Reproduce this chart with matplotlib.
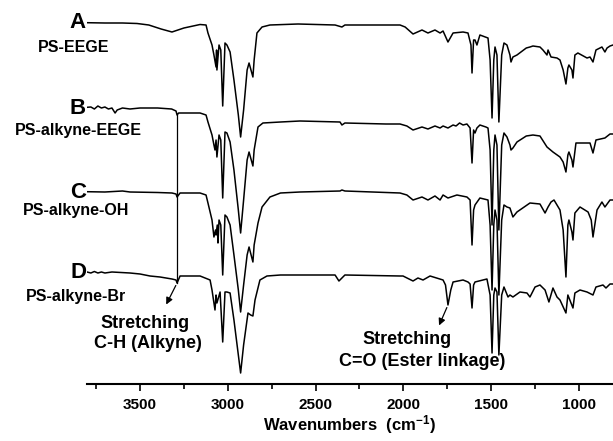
import numpy as np
import matplotlib
matplotlib.use('Agg')
import matplotlib.pyplot as plt

plt.rcParams['font.family'] = ['Liberation Sans', 'DejaVu Sans']
plt.rcParams['font.weight'] = 'bold'
plt.rcParams['mathtext.fontset'] = 'custom'
plt.rcParams['mathtext.bf'] = 'Liberation Sans:bold'
plt.rcParams['mathtext.rm'] = 'Liberation Sans:bold'
plt.rcParams['mathtext.default'] = 'bf'

# FTIR spectra, transmittance in arbitrary units (baseline ~100)
wn_a = [3802, 3700, 3600, 3517, 3450, 3380, 3318, 3250, 3158, 3124, 3113, 3090, 3079, 3067, 3064, 3062,
        3050, 3040, 3029, 3016, 3005, 2987, 2965, 2940, 2927, 2910, 2890, 2879, 2857, 2850, 2834, 2805,
        2760, 2600, 2389, 2350, 2333, 2100, 2019, 1990, 1945, 1894, 1860, 1820, 1791, 1774, 1746, 1717,
        1660, 1632, 1615, 1609, 1600, 1592, 1581, 1564, 1518, 1506, 1495, 1485, 1478, 1467, 1456, 1440,
        1427, 1410, 1393, 1387, 1376, 1353, 1300, 1279, 1262, 1222, 1205, 1182, 1176, 1159, 1125, 1108,
        1090, 1074, 1063, 1057, 1040, 1034, 1023, 1006, 954, 937, 920, 903, 869, 852, 840, 823, 806]
t_a = [99.3, 99, 99, 98.5, 97, 93, 90, 94, 97.5, 97, 89, 77, 67, 55, 72, 52,
       77, 72, 16, 79, 77, 70, 42, 7, -15, 12, 52, 59, 45, 62, 89, 95,
       97, 98, 97, 95, 97, 97, 97, 95, 88, 92, 89, 92, 89, 91, 80, 89,
       90, 89, 77, 49, 82, 82, 77, 87, 84, 62, 4, 62, 75, 67, 0, 67,
       79, 77, 67, 60, 65, 67, 74, 75, 76, 75, 72, 67, 72, 65, 64, 62,
       52, 38, 54, 57, 52, 44, 67, 69, 64, 65, 60, 72, 75, 70, 74, 76, 77]

wn_b = [3802, 3780, 3760, 3740, 3720, 3700, 3680, 3660, 3642, 3630, 3600, 3557, 3500, 3400, 3320, 3295,
        3289, 3280, 3272, 3158, 3124, 3113, 3090, 3079, 3073, 3067, 3062, 3050, 3040, 3029, 3016, 3005,
        2987, 2965, 2940, 2927, 2910, 2890, 2879, 2857, 2850, 2828, 2800, 2700, 2589, 2361, 2350, 2333,
        2100, 2019, 1980, 1945, 1894, 1860, 1820, 1791, 1774, 1746, 1717, 1700, 1680, 1660, 1638, 1620,
        1609, 1600, 1592, 1581, 1564, 1530, 1518, 1506, 1495, 1485, 1478, 1467, 1456, 1440, 1427, 1410,
        1393, 1387, 1376, 1353, 1300, 1262, 1222, 1182, 1148, 1108, 1090, 1074, 1063, 1057, 1040, 1034,
        1017, 937, 920, 903, 852, 823, 806]
t_b = [100.7, 101, 99, 102, 100, 101, 99, 100, 95, 98, 100, 99, 100, 100, 99, 97,
       93, 95, 95, 95, 93, 86, 73, 63, 58, 68, 51, 73, 68, 10, 76, 75,
       66, 38, -2, -25, 8, 48, 56, 42, 58, 81, 85, 86, 87, 86, 83, 85,
       84, 84, 82, 78, 81, 79, 82, 80, 82, 80, 83, 82, 85, 83, 84, 80,
       45, 78, 75, 80, 83, 81, 80, 58, -17, 58, 73, 63, -22, 63, 75, 71,
       63, 58, 60, 66, 72, 73, 72, 61, 56, 51, 46, 36, 53, 56, 48, 41,
       65, 65, 55, 68, 70, 74, 74]

wn_c = [3802, 3700, 3600, 3557, 3400, 3318, 3295, 3289, 3272, 3158, 3124, 3113, 3090, 3079, 3070, 3067,
        3060, 3056, 3050, 3040, 3029, 3016, 3005, 2987, 2965, 2940, 2927, 2910, 2890, 2879, 2857, 2850,
        2828, 2805, 2760, 2700, 2589, 2361, 2350, 2333, 2019, 1980, 1945, 1894, 1860, 1820, 1791, 1774,
        1746, 1695, 1638, 1620, 1609, 1600, 1592, 1564, 1518, 1506, 1495, 1485, 1478, 1467, 1456, 1440,
        1427, 1410, 1393, 1376, 1353, 1279, 1222, 1193, 1176, 1159, 1142, 1108, 1090, 1074, 1063, 1057,
        1040, 1034, 1023, 994, 948, 930, 920, 897, 869, 852, 823, 806]
t_c = [100.3, 100, 101, 100, 99.5, 99, 98, 95, 99, 99, 97, 89, 72, 55, 62, 57,
       67, 49, 72, 67, 17, 77, 75, 67, 37, 2, -20, 7, 37, 45, 30, 47,
       69, 85, 95, 99, 100, 101, 102, 101, 99, 97, 92, 95, 92, 96, 92, 97,
       94, 97, 95, 92, 47, 82, 87, 94, 92, 67, 2, 67, 82, 72, -3, 72,
       87, 85, 84, 75, 80, 89, 88, 79, 85, 90, 92, 82, 62, 15, 67, 72,
       60, 52, 79, 85, 80, 72, 55, 82, 90, 85, 92, 92]

wn_d = [3802, 3780, 3760, 3740, 3720, 3700, 3660, 3557, 3500, 3443, 3386, 3318, 3295, 3289, 3272, 3158,
        3101, 3090, 3073, 3067, 3062, 3044, 3029, 3016, 3005, 2987, 2965, 2940, 2927, 2910, 2885, 2870,
        2857, 2845, 2817, 2777, 2700, 2589, 2389, 2367, 2350, 2333, 2019, 2002, 1945, 1917, 1888, 1848,
        1774, 1760, 1746, 1730, 1717, 1660, 1632, 1620, 1609, 1600, 1592, 1524, 1506, 1495, 1485, 1478,
        1467, 1456, 1440, 1427, 1404, 1393, 1376, 1336, 1296, 1279, 1250, 1222, 1193, 1171, 1148, 1125,
        1108, 1074, 1063, 1034, 1023, 994, 954, 920, 903, 863, 846, 823, 806]
t_d = [100, 99, 100.5, 99, 100, 99, 100, 99, 98, 96, 95, 93, 92, 89, 96, 96,
       92, 82, 62, 77, 69, 80, 30, 80, 80, 79, 52, 17, -1, 27, 59, 57,
       56, 72, 92, 96, 97, 97, 97, 91, 94, 97, 96, 96, 91, 94, 92, 96,
       92, 87, 67, 82, 90, 92, 90, 88, 64, 87, 90, 93, 77, 19, 77, 84,
       80, 17, 77, 85, 75, 77, 75, 80, 79, 75, 85, 87, 82, 70, 84, 75,
       72, 59, 77, 64, 79, 82, 80, 77, 85, 87, 84, 88, 88]

labels = ['A', 'B', 'C', 'D']
names = ['PS-EEGE', 'PS-alkyne-EEGE', 'PS-alkyne-OH', 'PS-alkyne-Br']
offsets = [-122, -208, -292, -372]

W, H = 613, 441
fig = plt.figure(figsize=(W / 100, H / 100), dpi=100)
ax = fig.add_axes([87 / W, (H - 384) / H, (W - 87) / W, 384 / H])

spectra = [(wn_a, t_a), (wn_b, t_b), (wn_c, t_c), (wn_d, t_d)]
for (wn, t), off in zip(spectra, offsets):
    ax.plot(wn, np.array(t) + off, color='black', lw=1.1)

ax.set_xlim(3802, 806)
ax.set_ylim(-384, 0)
for s in ['top', 'right', 'left']:
    ax.spines[s].set_visible(False)
ax.spines['bottom'].set_linewidth(1.5)
ax.set_yticks([])
ax.set_xticks([3500, 3000, 2500, 2000, 1500, 1000])
ax.set_xticks(np.arange(3750, 800, -500), minor=True)
ax.tick_params(axis='x', which='major', length=5, width=1.2, labelsize=11, pad=5)
ax.tick_params(axis='x', which='minor', length=3.5, width=1.2)
for lbl in ax.get_xticklabels():
    lbl.set_fontweight('bold')
ax.set_xlabel('Wavenumbers  (cm$^{-1}$)', fontsize=12, fontweight='bold', labelpad=1)


def px(x, y):
    return x / W, 1 - y / H


letter_y = [22, 108, 192, 273]
name_y = [47, 130, 211, 297]
name_x = [74, 78, 76, 76]
for lab, nm, ly, ny, nx in zip(labels, names, letter_y, name_y, name_x):
    fig.text(*px(86, ly), lab, ha='right', va='center', fontsize=16, fontweight='bold')
    fig.text(*px(nx, ny), nm, ha='center', va='center', fontsize=11.5, fontweight='bold')

# alkyne C-H marker line between B and D
w_alk = 3289
yb = np.interp(w_alk, wn_b[::-1], t_b[::-1]) + offsets[1]
yd = np.interp(w_alk, wn_d[::-1], t_d[::-1]) + offsets[3]
ax.plot([w_alk, w_alk], [yb, yd], color='black', lw=0.9)
ax.annotate('', xy=(3358, -307), xytext=(w_alk, yd),
            arrowprops=dict(arrowstyle='-|>', color='black', lw=0.9, mutation_scale=10))
ax.text(3472, -323, 'Stretching', ha='center', va='center', fontsize=13, fontweight='bold')
ax.text(3457, -343, 'C-H (Alkyne)', ha='center', va='center', fontsize=13, fontweight='bold')

w_co = 1746
yco = np.interp(w_co, wn_d[::-1], t_d[::-1]) + offsets[3]
ax.annotate('', xy=(1803, -328), xytext=(w_co, yco),
            arrowprops=dict(arrowstyle='-|>', color='black', lw=0.9, mutation_scale=10))
ax.text(1977, -340, 'Stretching', ha='center', va='center', fontsize=13, fontweight='bold')
ax.text(1894, -361, 'C=O (Ester linkage)', ha='center', va='center', fontsize=13, fontweight='bold')

fig.savefig('out.png', dpi=100)
